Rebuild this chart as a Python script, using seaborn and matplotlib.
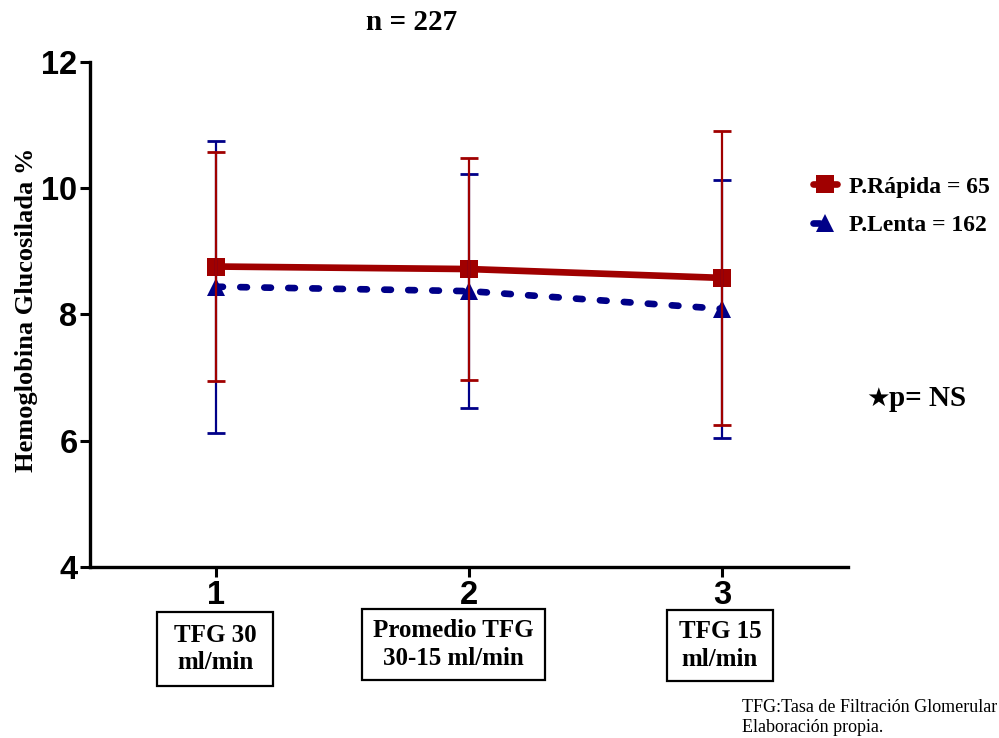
import matplotlib
matplotlib.use("Agg")
import matplotlib.pyplot as plt
import seaborn as sns
import pandas as pd
from matplotlib.lines import Line2D
from matplotlib.patches import Rectangle

# ---- data ----
stages = [1, 2, 3]
stage_boxes = ["TFG 30\nml/min", "Promedio TFG\n30-15 ml/min", "TFG 15\nml/min"]
rapida_mean = [8.76, 8.72, 8.58]
rapida_err = [1.81, 1.76, 2.33]
lenta_mean = [8.44, 8.37, 8.09]
lenta_err = [2.31, 1.85, 2.04]
series_names = ["P.Rápida = 65", "P.Lenta = 162"]
yticks = [4, 6, 8, 10, 12]

red = "#A00000"
blue = "#000088"

df = pd.DataFrame({
    "stage": stages * 2,
    "value": rapida_mean + lenta_mean,
    "group": [series_names[0]] * 3 + [series_names[1]] * 3,
})

sns.set_style("ticks")
plt.rcParams.update({"text.color": "black", "axes.labelcolor": "black",
                     "xtick.color": "black", "ytick.color": "black",
                     "axes.edgecolor": "black"})
serif = ["Liberation Serif", "DejaVu Serif"]
sans = ["Liberation Sans Narrow", "Liberation Sans", "DejaVu Sans"]

W, H = 999, 738
fig = plt.figure(figsize=(9.99, 7.38), dpi=100)
ax = fig.add_axes([0.090, 0.2317, 0.759, 0.6843])

sns.lineplot(data=df, x="stage", y="value", hue="group", style="group",
             palette={series_names[0]: red, series_names[1]: blue},
             markers={series_names[0]: "s", series_names[1]: "^"},
             dashes={series_names[0]: "", series_names[1]: (1.0, 2.6)},
             markersize=13, markeredgewidth=0, linewidth=4.8,
             legend=False, ax=ax, zorder=2)
for ln in ax.get_lines():
    ln.set_dash_capstyle("round")
    ln.set_solid_capstyle("butt")

ax.errorbar(stages, lenta_mean, yerr=lenta_err, fmt="none", ecolor=blue,
            elinewidth=1.6, capsize=6.8, capthick=2, zorder=3)
ax.errorbar(stages, rapida_mean, yerr=rapida_err, fmt="none", ecolor=red,
            elinewidth=1.6, capsize=6.8, capthick=2, zorder=3)

ax.set_xlim(0.5, 3.5)
ax.set_ylim(4, 12)
ax.set_xticks(stages)
ax.set_xticklabels([str(s) for s in stages])
ax.set_yticks(yticks)
ax.set_yticklabels([str(t) for t in yticks])
for lab in ax.get_xticklabels() + ax.get_yticklabels():
    lab.set_fontfamily(sans)
    lab.set_fontweight("bold")
    lab.set_color("black")
    lab.set_fontsize(23.5)
ax.tick_params(axis="both", direction="out", length=7, width=2.2, color="black")
ax.tick_params(axis="y", pad=2)
ax.tick_params(axis="x", pad=2)
sns.despine(ax=ax)
for sp in ["left", "bottom"]:
    ax.spines[sp].set_linewidth(2.4)
    ax.spines[sp].set_color("black")
ax.set_xlabel("")
ax.set_ylabel("Hemoglobina Glucosilada %", fontfamily=serif, fontweight="bold",
              fontsize=19, color="black")
ax.yaxis.set_label_coords(-0.068, 0.51)

fig.text(0.412, 1 - 22 / H, "n = 227", ha="center", va="center", fontfamily=serif,
         fontweight="bold", fontsize=21)

# stage boxes (pixel geometry: left, top, right, bottom)
box_geom = [(157, 612, 273, 686), (362, 609, 545, 680), (667, 610, 773, 681)]
for (l, t, r, b), txt in zip(box_geom, stage_boxes):
    fig.patches.append(Rectangle((l / W, 1 - b / H), (r - l) / W, (b - t) / H,
                                 transform=fig.transFigure, fc="white",
                                 ec="black", lw=1.6, zorder=1))
    fig.text((l + r) / 2 / W, 1 - (t + b) / 2 / H, txt, ha="center", va="center",
             fontfamily=serif, fontweight="bold", fontsize=18, linespacing=1.25,
             zorder=2)

# legend
handles = [
    Line2D([0], [0], color=red, lw=4.8, marker="s", markersize=13, markeredgewidth=0),
    Line2D([0], [0], color=blue, lw=4.8, ls=(0, (1.0, 2.6)), dash_capstyle="round",
           marker="^", markersize=13, markeredgewidth=0),
]
leg = fig.legend(handles, series_names, loc="upper left",
                 bbox_to_anchor=(0.793, 0.79), frameon=False, handlelength=1.0,
                 handletextpad=0.5, labelspacing=0.7,
                 prop=dict(family=serif, weight="bold", size=17))

fig.text(866 / W, 1 - 399 / H, "\u2605", ha="left", va="center",
         fontfamily=["DejaVu Sans"], fontsize=19, color="black")
fig.text(889 / W, 1 - 399 / H, "p= NS", ha="left", va="center",
         fontfamily=serif, fontweight="bold", fontsize=21)

fig.text(742 / W, 1 - 707 / H, "TFG:Tasa de Filtración Glomerular",
         ha="left", va="center", fontfamily=serif, fontsize=13)
fig.text(742 / W, 1 - 728 / H, "Elaboración propia.",
         ha="left", va="center", fontfamily=serif, fontsize=13)

fig.savefig("out.png", dpi=100)
